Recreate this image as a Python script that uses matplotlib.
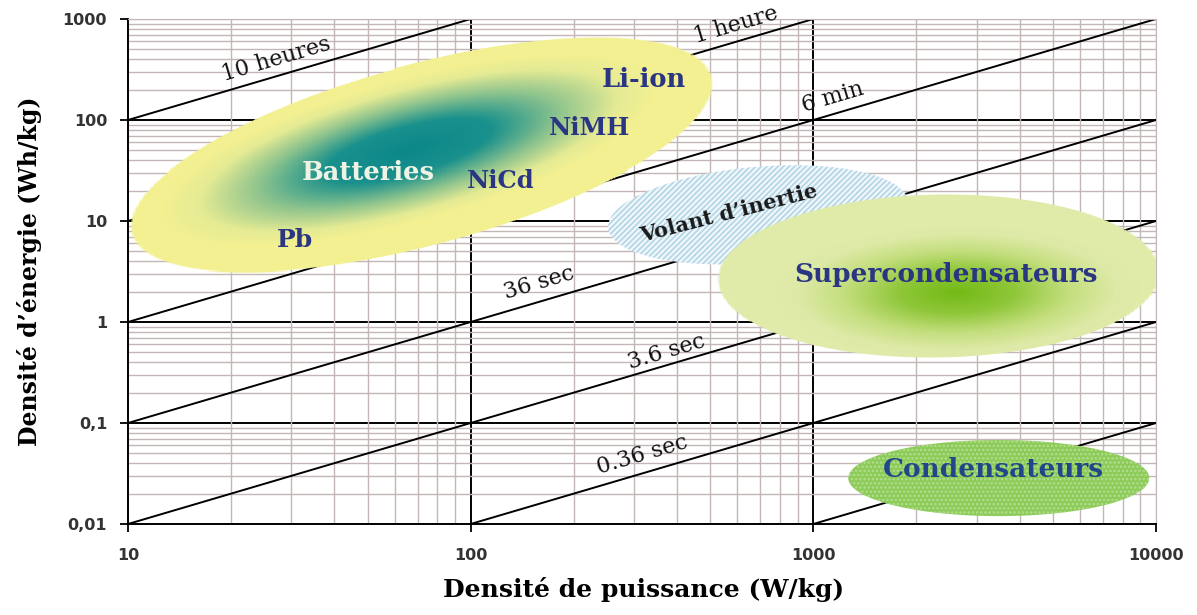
import numpy as np
import matplotlib
matplotlib.use("Agg")
import matplotlib.pyplot as plt
from matplotlib.colors import LinearSegmentedColormap
from matplotlib.ticker import NullFormatter

# axis ticks
x_ticks = [10, 100, 1000, 10000]
x_ticklabels = ["10", "100", "1000", "10000"]
y_ticks = [0.01, 0.1, 1, 10, 100, 1000]
y_ticklabels = ["0,01", "0,1", "1", "10", "100", "1000"]

# constant discharge time lines (hours) : E = t * P
durations_h = [10, 1, 0.1, 0.01, 0.001, 0.0001, 0.00001]
duration_labels = ["10 heures", "1 heure", "6 min", "36 sec", "3.6 sec", "0.36 sec"]
duration_label_P = [27.1, 596, 1137, 158, 372, 316]
duration_label_E = [402, 872, 169, 2.43, 0.505, 0.0482]

# technology regions: centre (W/kg, Wh/kg), half axes (in x decades), tilt (deg)
region_names = ["Batteries", "Volant", "Supercondensateurs", "Condensateurs"]
region_P = [71.9, 690, 2320, 3476]
region_E = [45.0, 11.5, 2.85, 0.0285]
region_a = [0.88, 0.439, 0.646, 0.439]
region_b = [0.265, 0.14, 0.240, 0.111]
region_tilt = [15.2, 5, 1, 0]

# colour gradients of the two shaded regions (batteries, supercondensateurs)
grad_P = [66.0, 2618]
grad_E = [50.0, 1.98]
grad_a = [0.75, 0.55]
grad_b = [0.21, 0.20]
grad_stops = [[0.0, 0.33, 0.6, 0.84, 1.0],
              [0.0, 0.3, 0.6, 0.85, 1.0]]
grad_colors = [["#0b878a", "#19908c", "#8dc38d", "#e4ea93", "#f3f091"],
               ["#72b915", "#8ec638", "#c4de7e", "#dde9a6", "#e0eaa9"]]

# names written on the chart
tech_labels = ["Li-ion", "NiMH", "NiCd", "Batteries", "Pb",
               "Volant d\u2019inertie", "Supercondensateurs", "Condensateurs"]
tech_P = [321, 223, 122, 50.4, 30.8, 568, 2432, 3357]
tech_E = [249, 83.4, 24.9, 29.9, 6.49, 12.0, 2.92, 0.0343]
tech_size = [18.5, 17.5, 17.5, 18.5, 18, 15, 19, 19]

navy = "#2b3682"

fig = plt.figure(figsize=(11.97, 6.15), dpi=100)
ax = fig.add_axes([128 / 1197, 1 - 524 / 615, 1028 / 1197, 505 / 615])
ax.set_xscale("log")
ax.set_yscale("log")
ax.set_xlim(10, 10000)
ax.set_ylim(0.01, 1000)

# ratio of pixel length of one y decade to one x decade
bb = ax.get_window_extent()
k = (bb.height / 5.0) / (bb.width / 3.0)
slope_deg = np.degrees(np.arctan(k))


def ellipse_xy(P, E, a, b, tilt, n=300):
    t = np.linspace(0, 2 * np.pi, n)
    th = np.radians(tilt)
    X = np.log10(P) + a * np.cos(t) * np.cos(th) - b * np.sin(t) * np.sin(th)
    Y = k * np.log10(E) + a * np.cos(t) * np.sin(th) + b * np.sin(t) * np.cos(th)
    return 10 ** X, 10 ** (Y / k)


def ell_dist(U, V, P, E, a, b, tilt):
    th = np.radians(tilt)
    dx = U - np.log10(P)
    dy = k * (V - np.log10(E))
    r1 = dx * np.cos(th) + dy * np.sin(th)
    r2 = -dx * np.sin(th) + dy * np.cos(th)
    return np.sqrt((r1 / a) ** 2 + (r2 / b) ** 2)


# grid
grid_col = "#c2b6b6"
ax.grid(which="minor", color=grid_col, lw=1.0, zorder=0)
ax.grid(which="major", visible=False)
for xv in x_ticks[1:-1]:
    ax.axvline(xv, color="black", lw=1.4, zorder=1)
for yv in y_ticks[1:-1]:
    ax.axhline(yv, color="black", lw=1.4, zorder=1)
ax.axvline(x_ticks[-1], color=grid_col, lw=1.0, zorder=0)
ax.axhline(y_ticks[-1], color=grid_col, lw=1.0, zorder=0)

# constant time lines
P_line = np.array([10.0, 10000.0])
for t in durations_h:
    ax.plot(P_line, t * P_line, color="black", lw=1.4, zorder=2)

# shaded regions (batteries and supercondensateurs) as an rgba mesh
u_edges = np.linspace(1, 4, 751)
v_edges = np.linspace(-2, 3, 501)
uc = 0.5 * (u_edges[:-1] + u_edges[1:])
vc = 0.5 * (v_edges[:-1] + v_edges[1:])
U, V = np.meshgrid(uc, vc)
rgba = np.zeros(U.shape + (4,))
for i, ri in enumerate([0, 2]):
    d = ell_dist(U, V, region_P[ri], region_E[ri], region_a[ri], region_b[ri], region_tilt[ri])
    g = ell_dist(U, V, grad_P[i], grad_E[i], grad_a[i], grad_b[i], region_tilt[ri])
    cmap = LinearSegmentedColormap.from_list("g%d" % i, list(zip(grad_stops[i], grad_colors[i])))
    col = cmap(np.clip(g, 0, 1))
    alpha = np.clip((1 - d) / 0.012, 0, 1)
    mask = alpha > 0
    rgba[mask, :3] = col[mask, :3]
    rgba[mask, 3] = alpha[mask]
ax.pcolormesh(10 ** u_edges, 10 ** v_edges, rgba, shading="flat", zorder=3)

# volant d'inertie : hatched
vx, vy = ellipse_xy(region_P[1], region_E[1], region_a[1], region_b[1], region_tilt[1])
plt.rcParams["hatch.linewidth"] = 1.2
ax.fill(vx, vy, facecolor="#f0f7fb", edgecolor="#b2d5e5", hatch="//////", lw=0, zorder=2.8)

# condensateurs : dotted green
cx, cy = ellipse_xy(region_P[3], region_E[3], region_a[3], region_b[3], region_tilt[3])
ax.fill(cx, cy, facecolor="#8ccb58", edgecolor="#b4de90", hatch="....", lw=0, zorder=3.5)

# labels of the time lines
for lab, P, E in zip(duration_labels, duration_label_P, duration_label_E):
    ax.text(P, E, lab, rotation=slope_deg, ha="center", va="center",
            family="DejaVu Serif", fontsize=16, color="#111111", zorder=5, clip_on=False)

# labels of the technologies
for lab, P, E, size in zip(tech_labels, tech_P, tech_E, tech_size):
    color = navy
    rot = 0
    if lab == "Batteries":
        color = "#eef3e4"
    if lab.startswith("Volant"):
        color = "#1a1a1a"
        rot = 14.5
    if lab == "Condensateurs":
        color = "#21478a"
    ax.text(P, E, lab, ha="center", va="center", rotation=rot, family="DejaVu Serif",
            fontweight="bold", fontsize=size, color=color, zorder=6)

# axes, ticks
ax.set_xticks(x_ticks)
ax.set_xticklabels(x_ticklabels)
ax.set_yticks(y_ticks)
ax.set_yticklabels(y_ticklabels)
ax.xaxis.set_minor_formatter(NullFormatter())
ax.yaxis.set_minor_formatter(NullFormatter())
ax.tick_params(which="minor", length=0)
ax.tick_params(which="major", direction="out", length=6, width=1.3, color="black",
               labelsize=11.5, labelcolor="#333333")
ax.tick_params(axis="x", pad=11)
ax.tick_params(axis="y", pad=9)
for lab in ax.get_xticklabels() + ax.get_yticklabels():
    lab.set_fontweight("bold")
ax.spines["left"].set_color("black")
ax.spines["bottom"].set_color("black")
ax.spines["left"].set_linewidth(1.4)
ax.spines["bottom"].set_linewidth(1.4)
ax.spines["top"].set_color(grid_col)
ax.spines["right"].set_color(grid_col)

fig.text(644 / 1197, 1 - 590 / 615, "Densité de puissance (W/kg)", ha="center", va="center",
         family="DejaVu Serif", fontweight="bold", fontsize=18)
fig.text(30 / 1197, 1 - 271 / 615, "Densité d\u2019énergie (Wh/kg)", ha="center", va="center",
         rotation=90, family="DejaVu Serif", fontweight="bold", fontsize=17)

fig.savefig("out.png", dpi=100)
